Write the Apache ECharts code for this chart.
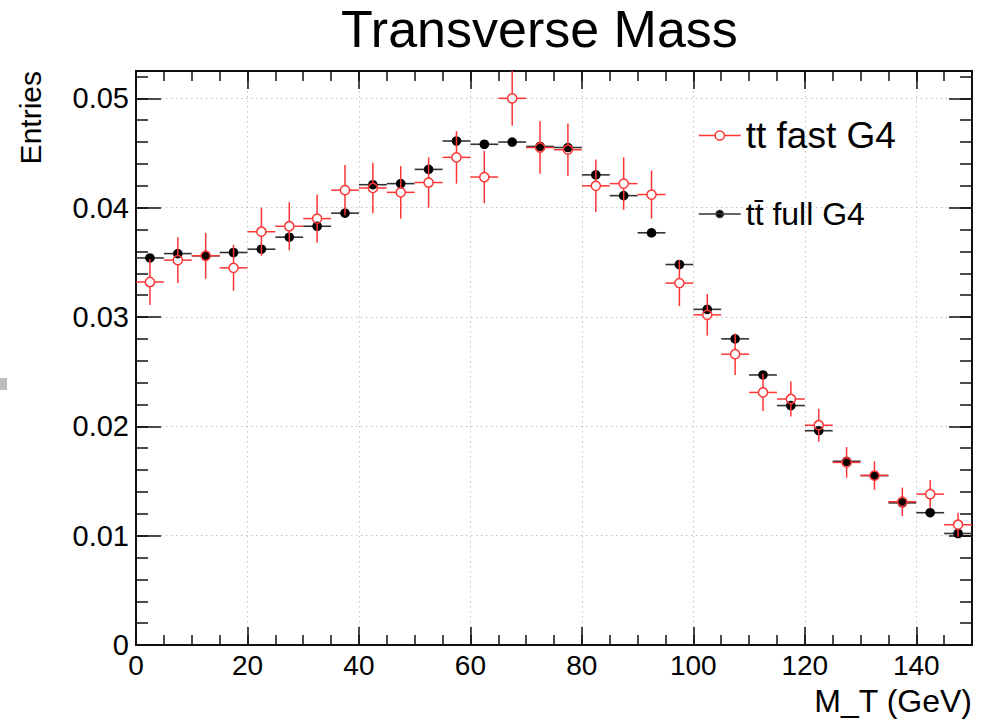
<!DOCTYPE html>
<html>
<head>
<meta charset="utf-8">
<script src="https://cdn.jsdelivr.net/npm/echarts@6/dist/echarts.min.js"></script>
<style>html,body{margin:0;padding:0;background:#fff}#chart{width:987px;height:723px}</style>
</head>
<body>
<div id="chart"></div>
<script>
// ---- data ----
const binCenters = [2.5, 7.5, 12.5, 17.5, 22.5, 27.5, 32.5, 37.5, 42.5, 47.5,
  52.5, 57.5, 62.5, 67.5, 72.5, 77.5, 82.5, 87.5, 92.5, 97.5,
  102.5, 107.5, 112.5, 117.5, 122.5, 127.5, 132.5, 137.5, 142.5, 147.5];
const binHalfWidth = 2.5;
const fastValues = [0.0332, 0.0352, 0.0356, 0.0345, 0.0378, 0.0383, 0.0390, 0.0416, 0.0418, 0.0414,
  0.0423, 0.0446, 0.0428, 0.0500, 0.0455, 0.0453, 0.0420, 0.0422, 0.0412, 0.0331,
  0.0302, 0.0266, 0.0231, 0.0225, 0.0201, 0.0167, 0.0155, 0.0131, 0.0138, 0.0110];
const fastErrors = [0.0021, 0.0021, 0.0021, 0.0021, 0.0022, 0.0022, 0.0022, 0.0023, 0.0023, 0.0024,
  0.0023, 0.0024, 0.0024, 0.0025, 0.0024, 0.0024, 0.0024, 0.0024, 0.0022, 0.0021,
  0.0019, 0.0019, 0.0017, 0.0016, 0.0015, 0.0014, 0.0013, 0.0013, 0.0013, 0.0011];
const fullValues = [0.0354, 0.0358, 0.0356, 0.0359, 0.0362, 0.0373, 0.0383, 0.0395, 0.0421, 0.0422,
  0.0435, 0.0461, 0.0458, 0.0460, 0.0456, 0.0455, 0.0430, 0.0411, 0.0377, 0.0348,
  0.0307, 0.0280, 0.0247, 0.0219, 0.0196, 0.0168, 0.0155, 0.0130, 0.0121, 0.0102];
const seriesNames = ['tt fast G4', 'tt\u0304 full G4'];
const titleText = 'Transverse Mass';
const xName = 'M_T (GeV)';
const yName = 'Entries';

// ---- styling ----
const FONT = 'Liberation Sans, Arial, Helvetica, sans-serif';
const fastColor = '#ff3535';
const fullColor = '#000000';

const fastData = binCenters.map((x, i) => [x, fastValues[i], fastErrors[i]]);
const fullData = binCenters.map((x, i) => [x, fullValues[i]]);

function renderFast(params, api) {
  const x = api.value(0), y = api.value(1), e = api.value(2);
  const c = api.coord([x, y]);
  const L = api.coord([x - binHalfWidth, y]);
  const R = api.coord([x + binHalfWidth, y]);
  const T = api.coord([x, y + e]);
  const B = api.coord([x, y - e]);
  const r = 4.6;
  const ls = { stroke: fastColor, lineWidth: 1.5 };
  return {
    type: 'group',
    children: [
      { type: 'line', shape: { x1: L[0], y1: c[1], x2: c[0] - r, y2: c[1] }, style: ls },
      { type: 'line', shape: { x1: c[0] + r, y1: c[1], x2: R[0], y2: c[1] }, style: ls },
      { type: 'line', shape: { x1: c[0], y1: T[1], x2: c[0], y2: c[1] - r }, style: ls },
      { type: 'line', shape: { x1: c[0], y1: c[1] + r, x2: c[0], y2: B[1] }, style: ls },
      { type: 'circle', shape: { cx: c[0], cy: c[1], r: r }, style: { fill: 'none', stroke: fastColor, lineWidth: 1.5 } }
    ]
  };
}
function renderFull(params, api) {
  const x = api.value(0), y = api.value(1);
  const c = api.coord([x, y]);
  const L = api.coord([x - binHalfWidth, y]);
  const R = api.coord([x + binHalfWidth, y]);
  return {
    type: 'group',
    children: [
      { type: 'line', shape: { x1: L[0], y1: c[1], x2: R[0], y2: c[1] }, style: { stroke: '#333', lineWidth: 1.6 } },
      { type: 'circle', shape: { cx: c[0], cy: c[1], r: 4.8 }, style: { fill: fullColor } }
    ]
  };
}

const axisLineStyle = { show: true, onZero: false, lineStyle: { color: '#111', width: 2 } };
const gridLine = { show: true, lineStyle: { color: '#c4c4c4', width: 1, type: [1.5, 3.5] } };

function xAx(pos, interval, tickLen, main) {
  return {
    type: 'value', position: pos, min: 0, max: 150, interval: interval,
    axisLine: axisLineStyle,
    axisTick: { show: true, inside: true, length: tickLen, lineStyle: { color: '#111', width: 1.5 } },
    axisLabel: main ? { show: true, fontSize: 28, color: '#000', fontFamily: FONT, margin: 6, showMaxLabel: false } : { show: false },
    splitLine: main ? gridLine : { show: false },
    name: main ? xName : '',
    nameLocation: 'end', nameGap: 0, nameMoveOverlap: false,
    nameTextStyle: { fontSize: 32, color: '#000', fontFamily: FONT, align: 'right', verticalAlign: 'top', padding: [40, 0, 0, 0] }
  };
}
function yAx(pos, interval, tickLen, main) {
  return {
    type: 'value', position: pos, min: 0, max: 0.0525, interval: interval,
    axisLine: axisLineStyle,
    axisTick: { show: true, inside: true, length: tickLen, lineStyle: { color: '#111', width: 1.5 } },
    axisLabel: main ? { show: true, fontSize: 29, color: '#000', fontFamily: FONT, margin: 7, showMaxLabel: false, padding: [8, 0, 0, 0] } : { show: false },
    splitLine: main ? gridLine : { show: false },
    name: main ? yName : '',
    nameLocation: 'end', nameGap: 0, nameRotate: 90, nameMoveOverlap: false,
    nameTextStyle: { fontSize: 30, color: '#000', fontFamily: FONT, align: 'right', verticalAlign: 'bottom', padding: [0, 0, 91, 0] }
  };
}

const chart = echarts.init(document.getElementById('chart'), null, { renderer: 'svg' });
chart.setOption({
  backgroundColor: '#fff',
  animation: false,
  title: {
    text: titleText, left: 341, top: 3, padding: 0,
    textStyle: { fontSize: 52, fontWeight: 'normal', color: '#000', fontFamily: FONT }
  },
  grid: { left: 136, right: 15, top: 71, bottom: 78, containLabel: false, outerBoundsMode: 'none' },
  legend: [
    {
      data: [{ name: seriesNames[0],
        icon: 'path://M0,5L16.4,5M25.6,5L42,5M25.6,5A4.6,4.6,0,1,1,16.4,5A4.6,4.6,0,1,1,25.6,5ZM21,0M21,10',
        itemStyle: { color: '#fff', borderColor: fastColor, borderWidth: 1.5 } }],
      left: 698, top: 117, padding: 0, itemWidth: 42, itemHeight: 10, selectedMode: false,
      textStyle: { fontSize: 37, color: '#000', fontFamily: FONT }
    },
    {
      data: [{ name: seriesNames[1],
        icon: 'path://M0,5L42,5M24.6,5A3.6,3.6,0,1,1,17.4,5A3.6,3.6,0,1,1,24.6,5ZM21,0M21,10',
        itemStyle: { color: '#000', borderColor: '#333', borderWidth: 1.5 } }],
      left: 698, top: 198, padding: 0, itemWidth: 42, itemHeight: 10, selectedMode: false,
      textStyle: { fontSize: 32, color: '#000', fontFamily: FONT }
    }
  ],
  xAxis: [
    xAx('bottom', 20, 18, true),
    xAx('bottom', 5, 10, false),
    xAx('top', 20, 18, false),
    xAx('top', 5, 10, false)
  ],
  yAxis: [
    yAx('left', 0.01, 25, true),
    yAx('left', 0.002, 12, false),
    yAx('right', 0.01, 23, false),
    yAx('right', 0.002, 12, false)
  ],
  graphic: [
    { type: 'rect', left: 0, top: 378, shape: { width: 7, height: 12 }, style: { fill: '#bdbdbd' }, silent: true }
  ],
  series: [
    { name: seriesNames[1], type: 'custom', renderItem: renderFull, data: fullData,
      encode: { x: 0, y: 1 }, xAxisIndex: 0, yAxisIndex: 0, z: 2, itemStyle: { color: fullColor } },
    { name: seriesNames[0], type: 'custom', renderItem: renderFast, data: fastData,
      encode: { x: 0, y: 1 }, xAxisIndex: 0, yAxisIndex: 0, z: 3, itemStyle: { color: fastColor } }
  ]
});
</script>
</body>
</html>
